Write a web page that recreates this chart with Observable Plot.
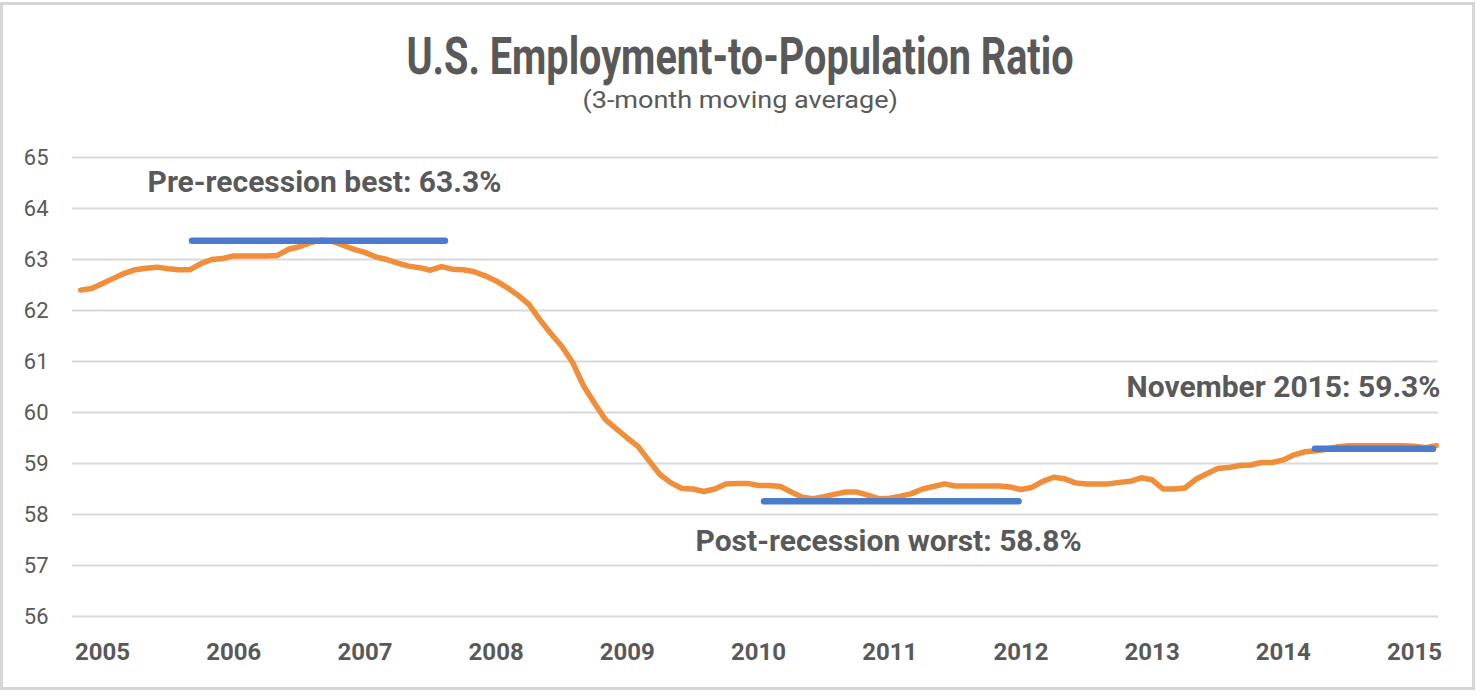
<!DOCTYPE html>
<html>
<head>
<meta charset="utf-8">
<script src="https://cdn.jsdelivr.net/npm/d3@7"></script>
<script src="https://cdn.jsdelivr.net/npm/@observablehq/plot@0.6"></script>
<style>
  html, body { margin: 0; padding: 0; background: #fff; }
  #page { position: relative; width: 1480px; height: 696px; overflow: hidden; background: #fff; }
  #border { position: absolute; left: 0px; top: 2px; width: 1475px; height: 688px; box-sizing: border-box; border: 3px solid #d6d6d6; pointer-events: none; }
  #header { position: relative; width: 1480px; height: 130px; }
  .t { position: absolute; left: 0; width: 1480px; text-align: center; line-height: 1; color: #595959; white-space: nowrap; }
  .t span { display: inline-block; transform-origin: 50% 50%; }
  #title { top: 31px; font-family: Roboto, "Noto Sans", sans-serif; font-weight: 700; font-size: 52px; }
  #subtitle { top: 88px; font-family: Roboto, "Noto Sans", sans-serif; font-weight: 400; font-size: 24px; }
  #chart svg { display: block; }
</style>
</head>
<body>
<div id="page">
  <div id="header">
    <div class="t" id="title"><span>U.S. Employment-to-Population Ratio</span></div>
    <div class="t" id="subtitle"><span>(3-month moving average)</span></div>
  </div>
  <div id="chart"></div>
  <div id="border"></div>
</div>
<script>
// ---- data ----
const startYear = 2004 + 10 / 12;   // first monthly point (axis in fractional years)
const ratio = [
  62.40, 62.43, 62.53, 62.63, 62.73, 62.80, 62.83, 62.85, 62.82, 62.80,
  62.80, 62.92, 63.00, 63.02, 63.07, 63.07, 63.07, 63.07, 63.08, 63.20,
  63.25, 63.33, 63.38, 63.36, 63.28, 63.20, 63.14, 63.05, 63.00, 62.93,
  62.87, 62.84, 62.79, 62.86, 62.81, 62.80, 62.76, 62.68, 62.58, 62.45,
  62.30, 62.12, 61.82, 61.55, 61.30, 60.98, 60.52, 60.18, 59.86, 59.68,
  59.50, 59.33, 59.05, 58.78, 58.62, 58.51, 58.50, 58.45, 58.50, 58.60,
  58.61, 58.61, 58.57, 58.57, 58.55, 58.44, 58.34, 58.31, 58.35, 58.40,
  58.44, 58.44, 58.38, 58.31, 58.32, 58.36, 58.41, 58.50, 58.55, 58.60,
  58.56, 58.56, 58.56, 58.56, 58.56, 58.54, 58.49, 58.53, 58.65, 58.73,
  58.70, 58.62, 58.60, 58.60, 58.60, 58.63, 58.65, 58.72, 58.68, 58.50,
  58.50, 58.52, 58.69, 58.80, 58.90, 58.92, 58.96, 58.97, 59.02, 59.02,
  59.07, 59.17, 59.23, 59.25, 59.28, 59.33, 59.35, 59.35, 59.35, 59.35,
  59.35, 59.35, 59.34, 59.31, 59.35
];
const yearTicks = [2005, 2006, 2007, 2008, 2009, 2010, 2011, 2012, 2013, 2014, 2015];
const valueTicks = [56, 57, 58, 59, 60, 61, 62, 63, 64, 65];
// reference lines (from, to in years; level in %)
const refFrom = [2005.686, 2010.046, 2014.245];
const refTo = [2007.614, 2011.986, 2015.145];
const refLevel = [63.37, 58.26, 59.29];
// annotation labels
const noteText = ["Pre-recession best: 63.3%", "Post-recession worst: 58.8%", "November 2015: 59.3%"];
const noteX = [2005.343, 2009.52, 2015.198];
const noteY = [64.52, 57.47, 60.50];
const noteAnchor = ["start", "start", "end"];

// ---- tables ----
const series = ratio.map((v, i) => ({t: startYear + i / 12, v}));
const refs = refLevel.map((y, i) => ({x1: refFrom[i], x2: refTo[i], y}));
const notes = noteText.map((text, i) => ({text, x: noteX[i], y: noteY[i], anchor: noteAnchor[i]}));

const plot = Plot.plot({
  width: 1480,
  height: 566,
  marginLeft: 72,
  marginRight: 42,
  marginTop: 27,
  marginBottom: 80,
  style: {fontFamily: "Roboto, sans-serif", color: "#595959", background: "transparent", overflow: "visible"},
  x: {domain: [2004.771, 2015.183], label: null},
  y: {domain: [56, 65], label: null},
  marks: [
    Plot.gridY(valueTicks, {stroke: "#d9d9d9", strokeOpacity: 1, strokeWidth: 2}),
    Plot.axisY(valueTicks, {tickSize: 0, tickPadding: 24, fontSize: 22, label: null, fill: "#595959", tickFormat: d => String(d)}),
    Plot.axisX(yearTicks, {tickSize: 0, tickPadding: 26, fontSize: 24, fontWeight: 700, label: null, tickFormat: d => String(d), fill: "#595959"}),
    Plot.line(series, {x: "t", y: "v", stroke: "#F08E3A", strokeWidth: 5.5, strokeLinejoin: "round", strokeLinecap: "round"}),
    Plot.ruleY(refs, {x1: "x1", x2: "x2", y: "y", stroke: "#4A7CCB", strokeWidth: 6.5, strokeLinecap: "round"}),
    Plot.text(notes.filter(d => d.anchor === "start"), {x: "x", y: "y", text: "text", textAnchor: "start", fontSize: 30, fontWeight: 700, fill: "#595959"}),
    Plot.text(notes.filter(d => d.anchor === "end"), {x: "x", y: "y", text: "text", textAnchor: "end", fontSize: 30, fontWeight: 700, fill: "#595959"})
  ]
});
document.getElementById("chart").appendChild(plot);

function fit(sel, target) {
  const el = document.querySelector(sel);
  const w = el.offsetWidth; // untransformed layout width
  if (w > 0) el.style.transform = `scaleX(${target / w})`;
}
function fitAll() {
  fit("#title span", 667);
  fit("#subtitle span", 315);
}
fitAll();
if (document.fonts && document.fonts.ready) document.fonts.ready.then(fitAll);
</script>
</body>
</html>
